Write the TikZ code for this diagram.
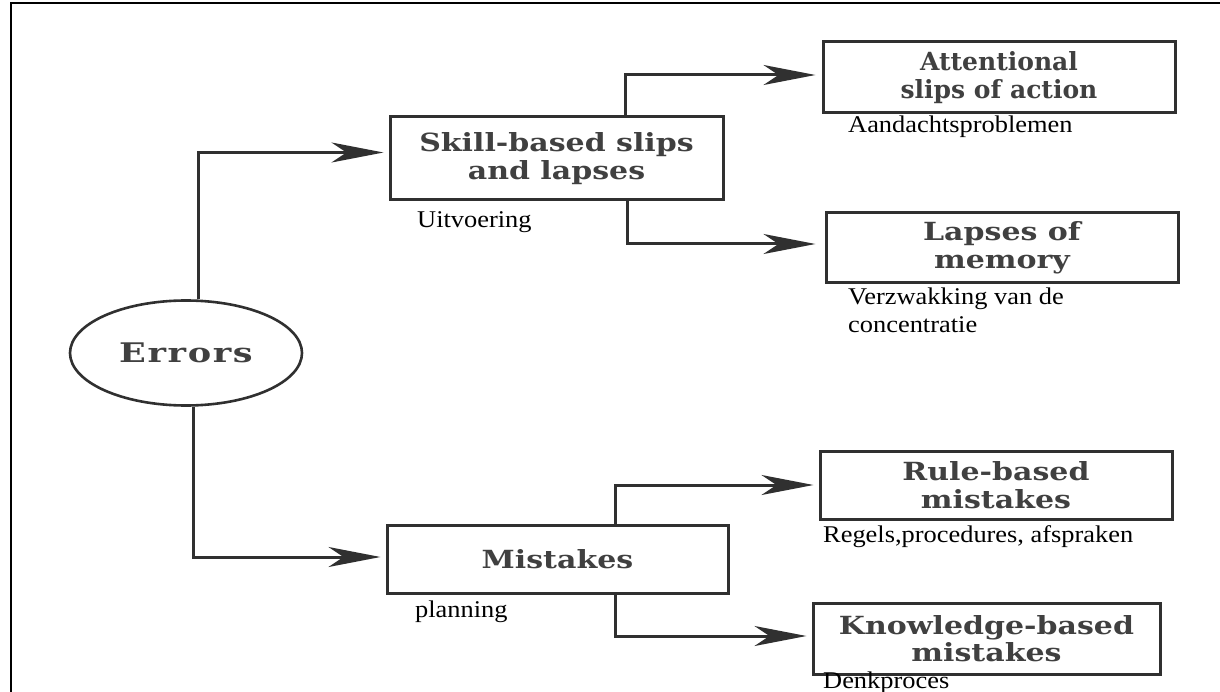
\documentclass[tikz,border=0pt]{standalone}
\usepackage{fontspec}
\setmainfont{Liberation Serif}
\newfontfamily\boxfont[FakeStretch=1.2]{DejaVu Serif}
\newfontfamily\narrowboxfont{DejaVu Serif}
\newfontfamily\rootfont[FakeStretch=1.3,LetterSpace=6]{DejaVu Serif}
\newfontfamily\lblfont[FakeStretch=1.1]{Liberation Serif}
\usetikzlibrary{arrows.meta,shapes.geometric}
\definecolor{ink}{HTML}{303030}
\definecolor{boxtext}{HTML}{404040}
\tikzset{
  errbox/.style={draw=ink, line width=3pt, rectangle, inner sep=0pt,
    align=center, text=boxtext,
    font=\boxfont\bfseries\fontsize{25}{27.5}\selectfont},
  errell/.style={draw=ink, line width=2.6pt, ellipse, inner sep=0pt,
    text=boxtext, font=\rootfont\bfseries\fontsize{27}{30}\selectfont},
  lbl/.style={inner sep=0pt, anchor=base west, text=black,
    font=\lblfont\fontsize{24}{28}\selectfont},
  conn/.style={draw=ink, line width=3pt,
    -{Stealth[length=52pt,width=20pt,inset=15pt]}},
}
\begin{document}
\begin{tikzpicture}[x=1pt,y=-1pt]
\useasboundingbox (0,0) rectangle (1220,692);
% cell border
\draw[black, line width=2pt] (11,692) -- (11,3.5) -- (1220,3.5);

% root
\node[errell, minimum width=232pt, minimum height=105pt] (errors) at (186,353) {Errors};

% first level
\node[errbox, minimum width=333pt, minimum height=83pt] (skill) at (556.5,158.5)
  {Skill-based slips\\and lapses};
\node[errbox, minimum width=341pt, minimum height=68pt] (mist) at (557.5,559)
  {Mistakes};

% second level
\node[errbox, minimum width=352pt, minimum height=71pt,
  font=\narrowboxfont\bfseries\fontsize{25}{28}\selectfont] (att) at (999,77.5)
  {Attentional\\slips of action};
\node[errbox, minimum width=352pt, minimum height=70pt] (laps) at (1002,248)
  {Lapses of\\memory};
\node[errbox, minimum width=352pt, minimum height=68pt] (rule) at (996,485)
  {Rule-based\\mistakes};
\node[errbox, minimum width=347pt, minimum height=71pt] (know) at (986.5,638.5)
  {Knowledge-based\\mistakes};

% annotations
\node[lbl] (uitv) at (417,228) {Uitvoering};
\node[lbl] (aand) at (848,133) {Aandachtsproblemen};
\node[lbl] (verz) at (848,305) {Verzwakking van de};
\node[lbl] (conc) at (848,333) {concentratie};
\node[lbl] (regl) at (823,542) {Regels,procedures, afspraken};
\node[lbl] (plan) at (415,617) {planning};
\node[lbl] (denk) at (823,688) {Denkproces};

% connectors
\draw[conn, shorten >=5pt] ([xshift=12pt]errors.north) |- ([yshift=6pt]skill.west);
\draw[conn, shorten >=5pt] ([xshift=7pt]errors.south) |- ([yshift=2pt]mist.west);
\draw[conn, shorten >=6pt] ([xshift=68.5pt]skill.north) |- ([yshift=2.5pt]att.west);
\draw[conn, shorten >=9pt] ([xshift=70.5pt]skill.south) |- ([yshift=4pt]laps.west);
\draw[conn, shorten >=5pt] ([xshift=57.5pt]mist.north) |- (rule.west);
\draw[conn, shorten >=5pt] ([xshift=57.5pt]mist.south) |- ([yshift=2.5pt]know.west);
\end{tikzpicture}
\end{document}
